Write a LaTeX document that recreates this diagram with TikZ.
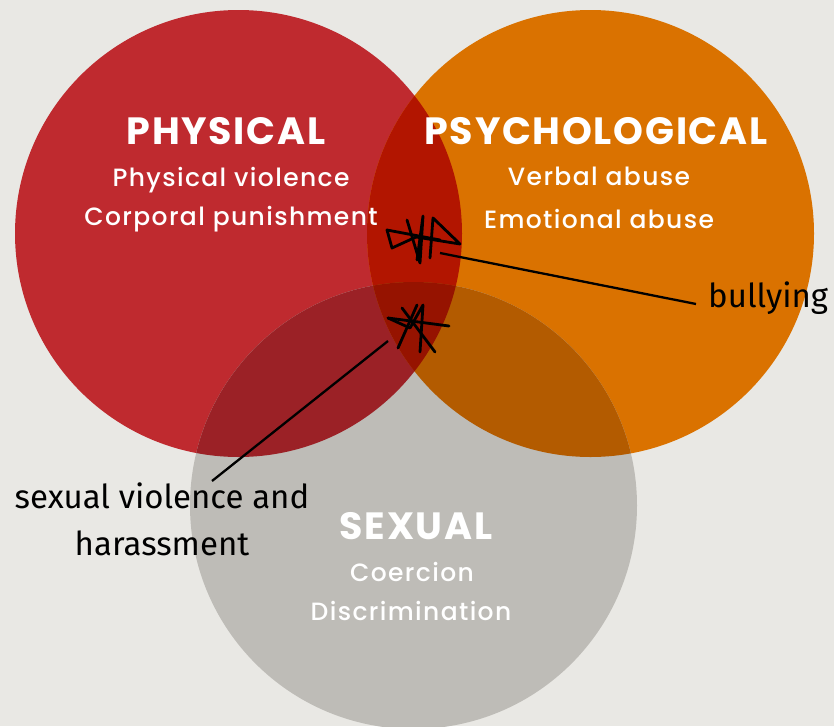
\documentclass[tikz,border=0pt]{standalone}
\usepackage{fontspec}
\setmainfont{Poppins}
\newfontfamily\itemfont[LetterSpace=5.5]{Poppins Medium}
\newfontfamily\titlefont[LetterSpace=4.5]{Poppins Bold}
\newfontfamily\handfont{Fira Sans}
\usepackage{tikz}
\definecolor{bgGrey}{HTML}{E9E8E4}
\definecolor{physRed}{HTML}{BF2A2F}
\definecolor{psychOrange}{HTML}{DA7200}
\definecolor{sexGrey}{HTML}{BEBCB7}
\definecolor{redOrange}{HTML}{B21500}
\definecolor{redGrey}{HTML}{9B2126}
\definecolor{orangeGrey}{HTML}{B35B00}
\definecolor{allThree}{HTML}{961300}
\tikzset{
    title/.style={text=white, anchor=base, inner sep=0pt, font=\titlefont\fontsize{38}{38}\selectfont},
    item/.style={text=white, anchor=base, inner sep=0pt, font=\itemfont\fontsize{25}{25}\selectfont},
    hand/.style={anchor=base, inner sep=0pt, font=\handfont\fontsize{33}{33}\selectfont},
    scrib/.style={line width=2.8pt, line join=round, line cap=round},
    leader/.style={line width=2.3pt}}

\begin{document}
\begin{tikzpicture}[x=1pt, y=-1pt]

                    \fill[bgGrey] (0,0) rectangle (834,726);
                    \useasboundingbox (0,0) rectangle (834,726);

                    \coordinate (phys) at (238.5,233.5);
                    \coordinate (psych) at (590.5,233.5);
                    \coordinate (sex) at (413.5,505.5);

                    \fill[physRed] (phys) circle[radius=223.5pt];
                    \fill[psychOrange] (psych) circle[radius=223.5pt];
                    \fill[sexGrey] (sex) circle[radius=223.5pt];
                    \begin{scope}
                        \clip (phys) circle[radius=223.5pt];
                        \fill[redOrange] (psych) circle[radius=223.5pt];
                        \fill[redGrey] (sex) circle[radius=223.5pt];
                    \end{scope}
                    \begin{scope}
                        \clip (psych) circle[radius=223.5pt];
                        \fill[orangeGrey] (sex) circle[radius=223.5pt];
                        \clip (phys) circle[radius=223.5pt];
                        \fill[allThree] (sex) circle[radius=223.5pt];
                    \end{scope}

                    \node[title] (physTitle) at (226,144) {PHYSICAL};
                    \node[item] (physA) at (231,186) {Physical violence};
                    \node[item] (physB) at (231,225) {Corporal punishment};
                    \node[title] (psychTitle) at (596,144) {PSYCHOLOGICAL};
                    \node[item] (psychA) at (599,185) {Verbal abuse};
                    \node[item] (psychB) at (599,228) {Emotional abuse};
                    \node[title] (sexTitle) at (416,539) {SEXUAL};
                    \node[item] (sexA) at (412,581) {Coercion};
                    \node[item] (sexB) at (411,620) {Discrimination};

                    \draw[scrib] (387,230) -- (392,248) -- (416,237) -- (460,244) -- (433,218) -- (430,258);
                    \draw[scrib] (387,230) -- (440,240);
                    \draw[scrib] (407,220) -- (420,263) -- (423,216) -- (417,260);
                    \draw[scrib] (388,318) -- (449,326);
                    \draw[scrib] (402,308) -- (435,352);
                    \draw[scrib] (417,305) -- (398,348);
                    \draw[scrib] (388,318) -- (410,328) -- (423,305) -- (420,352);

                    \coordinate (bullyX) at (440,253);
                    \coordinate (bullyEnd) at (696,304);
                    \coordinate (sexX) at (388,341);
                    \coordinate (sexEnd) at (212,481);
                    \node[hand, anchor=base west] (bully) at (708,307) {bullying};
                    \node[hand] (sexLabelA) at (162,508) {sexual violence and};
                    \node[hand] (sexLabelB) at (162,555) {harassment};

                    \draw[leader] (bullyX) -- (bullyEnd);
                    \draw[leader] (sexX) -- (sexEnd);

                \end{tikzpicture}
\end{document}
